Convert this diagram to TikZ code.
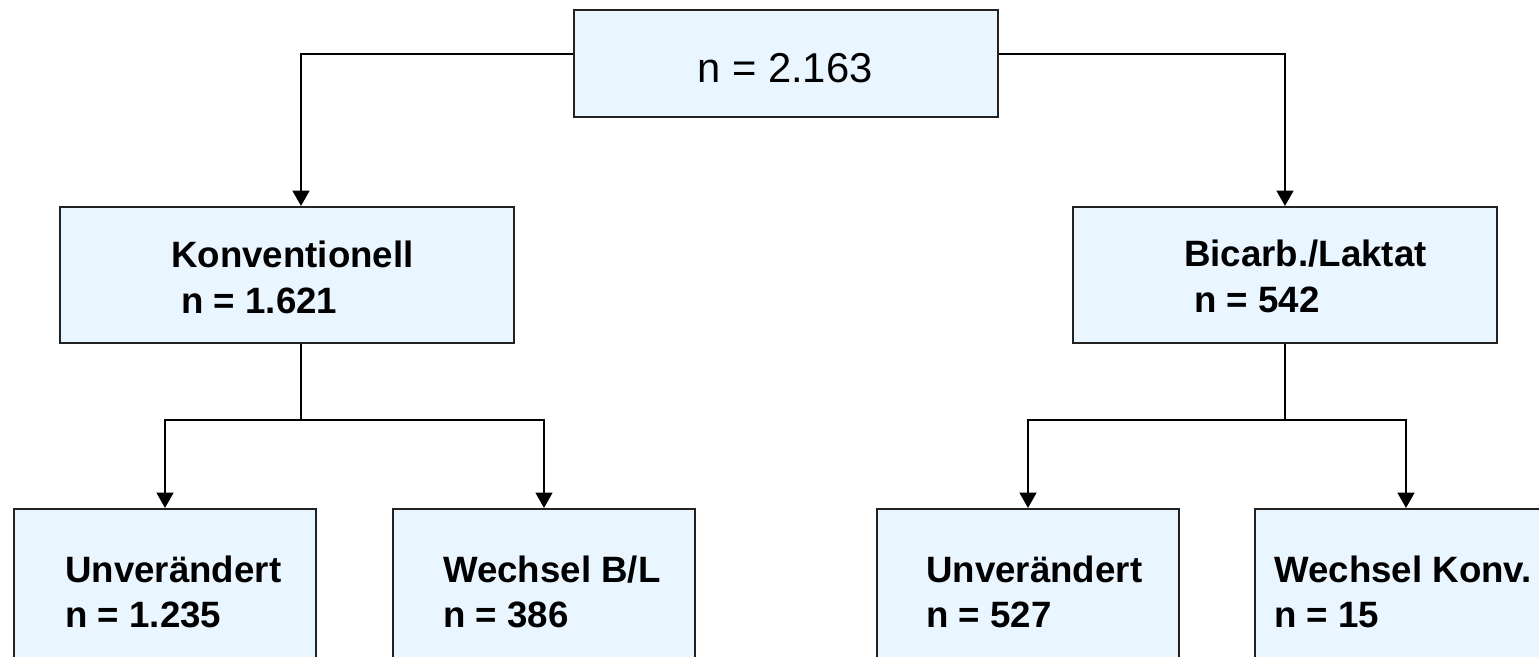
\documentclass[tikz,border=0pt]{standalone}
\usepackage{fontspec}
\setmainfont{Liberation Sans}
\usetikzlibrary{arrows.meta,calc}
\definecolor{boxfill}{HTML}{EAF6FF}
\definecolor{boxline}{HTML}{222222}
\begin{document}
\begin{tikzpicture}[x=0.75pt,y=-0.75pt,
  box/.style={draw=boxline, line width=1.5pt, fill=boxfill, rectangle, inner sep=0pt, anchor=north west},
  lbl/.style={anchor=base west, inner sep=0pt, font=\fontsize{27.5}{33}\selectfont\bfseries},
  conn/.style={line width=1.8pt, black},
  arr/.style={conn, -{Triangle[width=12.5pt,length=11.5pt]}}
]
\path[use as bounding box, clip] (0,0) rectangle (1539,657);
\fill[white] (0,0) rectangle (1539,657);
% boxes
\node[box, minimum width=318pt, minimum height=80.25pt] (top) at (573,9) {};
\node[box, minimum width=340.5pt, minimum height=102pt] (K) at (59,206) {};
\node[box, minimum width=318pt, minimum height=102pt] (B) at (1072,206) {};
\node[box, minimum width=226.5pt, minimum height=165pt] (u1) at (13,508) {};
\node[box, minimum width=226.5pt, minimum height=165pt] (w1) at (392,508) {};
\node[box, minimum width=226.5pt, minimum height=165pt] (u2) at (876,508) {};
\node[box, minimum width=226.5pt, minimum height=165pt] (w2) at (1254,508) {};
% texts
\node[anchor=base, inner sep=0pt, font=\fontsize{31.3}{37}\selectfont] (t0) at (785,82) {n = 2.163};
\node[lbl] (k1) at (171,267) {Konventionell};
\node[lbl] (k2) at (181,313) {n = 1.621};
\node[lbl] (b1) at (1184,266) {Bicarb./Laktat};
\node[lbl] (b2) at (1194,312) {n = 542};
\node[lbl] (u1a) at (65,582) {Unverändert};
\node[lbl] (u1b) at (65,627) {n = 1.235};
\node[lbl] (w1a) at (443,582) {Wechsel B/L};
\node[lbl] (w1b) at (443,627) {n = 386};
\node[lbl] (u2a) at (926,582) {Unverändert};
\node[lbl] (u2b) at (926,627) {n = 527};
\node[lbl] (w2a) at (1274,582) {Wechsel Konv.};
\node[lbl] (w2b) at (1274,627) {n = 15};
% connectors
\draw[arr] ($(top.north west)+(0,45)$) -| ($(K.north west)+(242,0)$);
\draw[arr] ($(top.north east)+(0,45)$) -| (B.north);
\draw[conn] ($(K.south west)+(242,0)$) -- ++(0,76) coordinate (ksplit);
\draw[arr] (ksplit) -| (u1.north);
\draw[arr] (ksplit) -| (w1.north);
\draw[conn] (B.south) -- ++(0,76) coordinate (bsplit);
\draw[arr] (bsplit) -| (u2.north);
\draw[arr] (bsplit) -| (w2.north);
\end{tikzpicture}
\end{document}
